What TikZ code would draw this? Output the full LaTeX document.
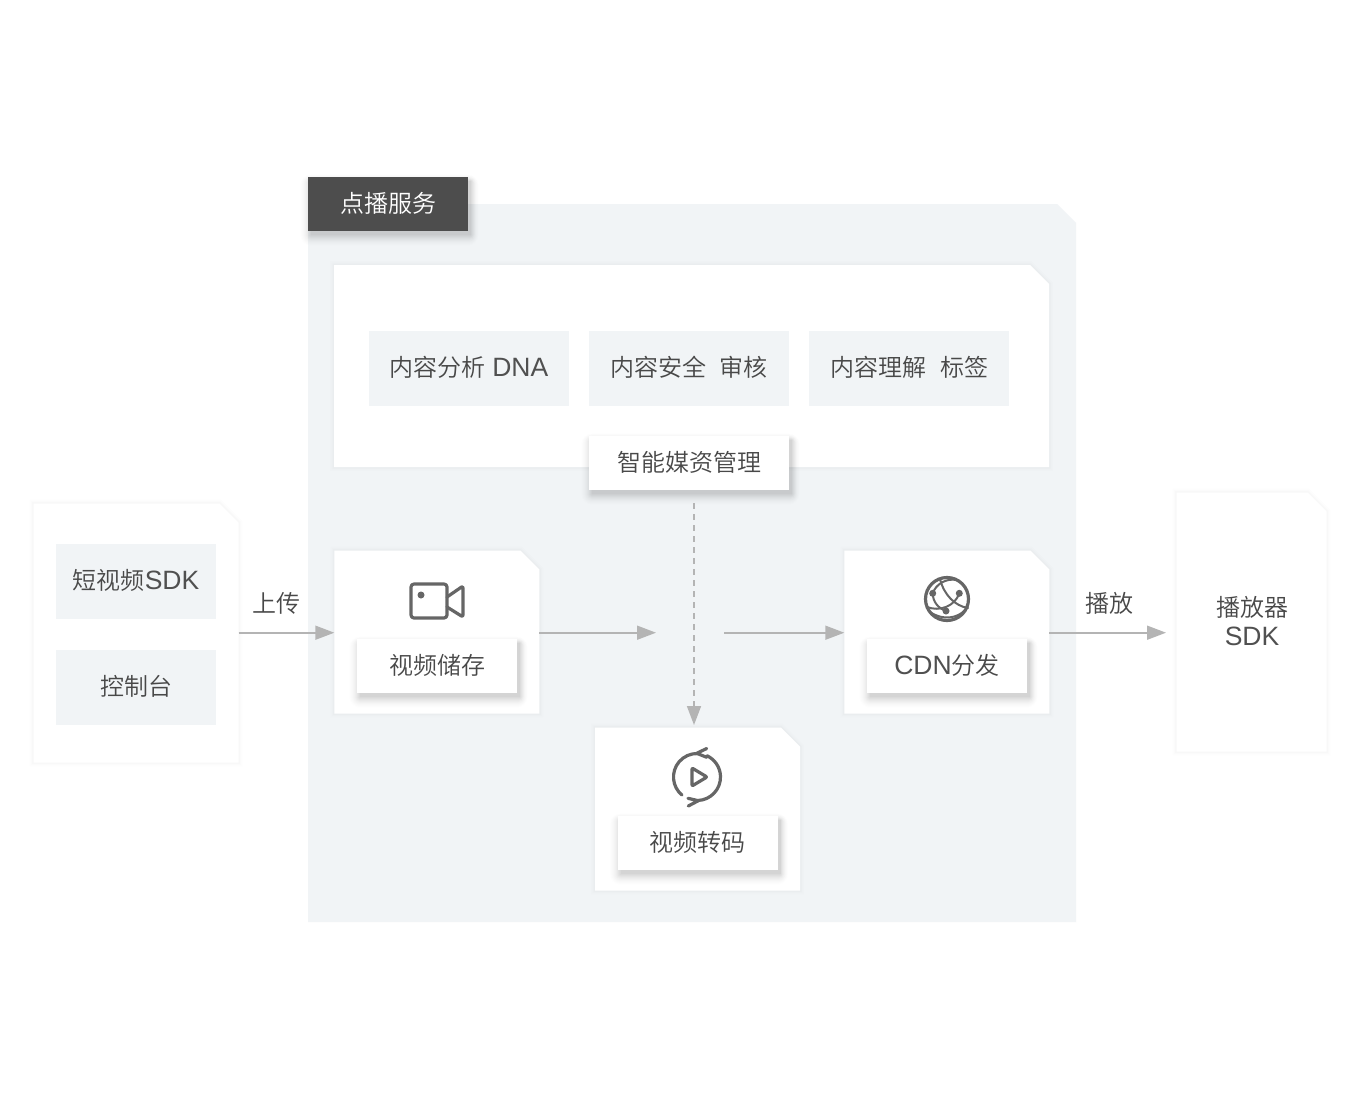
\documentclass[tikz,border=0pt]{standalone}
\usepackage{fontspec}
\setmainfont{Liberation Sans}
\newfontfamily\cjk{Noto Sans CJK SC DemiLight}
\usetikzlibrary{arrows.meta,calc}
\definecolor{bgc}{HTML}{F1F4F6}
\definecolor{txt}{HTML}{484848}
\definecolor{lat}{HTML}{505050}
\definecolor{arr}{HTML}{B4B4B4}
\definecolor{ico}{HTML}{666666}
\definecolor{ttl}{HTML}{4D4D4D}
\newcommand{\zh}[1]{{\cjk #1}}
\newcommand{\la}[1]{{\fontsize{26.5}{31}\selectfont\color{lat}#1}}
\tikzset{
  x=1pt,y=-1pt,
  every node/.style={font=\fontsize{24}{31}\selectfont,text=txt,align=center,inner sep=0pt,outer sep=0pt},
  softglow/.style={
    preaction={draw=black,draw opacity=.006,line width=8pt},
    preaction={draw=black,draw opacity=.008,line width=5pt},
    preaction={draw=black,draw opacity=.012,line width=3pt}},
  tile/.style={rectangle,fill=bgc},
  raised/.style={rectangle,fill=white},
  flow/.style={draw=arr,line width=1.6pt,-{Triangle[length=19pt,width=14pt,fill=arr]}},
  icon/.style={draw=ico,line width=3.2pt,line cap=round,line join=round},
  thin icon/.style={draw=ico,line width=2pt,line cap=round,line join=round},
}
% cut-corner outline drawn round a named holder node
\newcommand{\cutpanel}[3][19]{%
  \path[#3] (#2.north west) -- ($(#2.north east)+(-#1,0)$) -- ($(#2.north east)+(0,#1)$)
     -- (#2.south east) -- (#2.south west) -- cycle;}
% soft drop shadow under a box: centre x, y, width, height
\newcommand{\softshadow}[4]{%
  \foreach \r/\o in {11/.005,10/.006,9/.007,8/.008,7/.010,6/.012,5/.014,4/.016,3/.018,2/.02,1/.022,0/.025}{%
    \fill[black,opacity=\o,rounded corners=\r pt]
      (#1-#3/2+3-\r,#2-#4/2+4-\r*0.6) rectangle (#1+#3/2+3+\r*0.7,#2+#4/2+4+\r);}}
\begin{document}
\begin{tikzpicture}
\useasboundingbox (0,0) rectangle (1360,1100);
\fill[white] (0,0) rectangle (1360,1100);
% back panel of the service
\node[rectangle,minimum width=768pt,minimum height=718pt] (service) at (692,563) {};
\cutpanel{service}{fill=bgc}
\softshadow{388}{204}{160}{54}
\node[rectangle,fill=ttl,minimum width=160pt,minimum height=54pt,text=white] (title) at (388,204) {};
\node[text=white] (titletext) at (388,203) {\zh{点播服务}};
% top panel
\node[rectangle,minimum width=715pt,minimum height=202pt] (top) at (691.5,366) {};
\cutpanel{top}{fill=white,softglow}
\node[tile,minimum width=200pt,minimum height=75pt] (dna) at (469,368.5) {};
\node (dnatext) at (469,367.5) {\zh{内容分析} \la{DNA}};
\node[tile,minimum width=200pt,minimum height=75pt] (audit) at (689,368.5) {};
\node (audittext) at (689,367.5) {\zh{内容安全\hspace{14pt}审核}};
\node[tile,minimum width=200pt,minimum height=75pt] (label) at (909,368.5) {};
\node (labeltext) at (909,367.5) {\zh{内容理解\hspace{14pt}标签}};
\softshadow{689}{463}{200}{54}
\node[raised,minimum width=200pt,minimum height=54pt] (media) at (689,463) {};
\node (mediatext) at (689,462) {\zh{智能媒资管理}};
% left client
\node[rectangle,minimum width=205pt,minimum height=259pt] (client) at (136,633) {};
\cutpanel{client}{fill=white,softglow}
\node[tile,minimum width=160pt,minimum height=75pt] (sdk) at (136,581.5) {};
\node (sdktext) at (136,580.5) {\zh{短视频}\la{SDK}};
\node[tile,minimum width=160pt,minimum height=75pt] (console) at (136,687.5) {};
\node (consoletext) at (136,686.5) {\zh{控制台}};
% storage
\node[rectangle,minimum width=205pt,minimum height=163pt] (store) at (436.8,632) {};
\cutpanel{store}{fill=white,softglow}
\softshadow{437}{666}{160}{54}
\node[raised,minimum width=160pt,minimum height=54pt] (storelabel) at (437,666) {};
\node (storetext) at (437,665) {\zh{视频储存}};
% cdn
\node[rectangle,minimum width=205pt,minimum height=163pt] (cdn) at (946.8,632) {};
\cutpanel{cdn}{fill=white,softglow}
\softshadow{947}{666}{160}{54}
\node[raised,minimum width=160pt,minimum height=54pt] (cdnlabel) at (947,666) {};
\node (cdntext) at (947,665) {\la{CDN}\zh{分发}};
% transcode
\node[rectangle,minimum width=205pt,minimum height=163pt] (trans) at (697.5,809.2) {};
\cutpanel{trans}{fill=white,softglow}
\softshadow{697.5}{843}{160}{54}
\node[raised,minimum width=160pt,minimum height=54pt] (translabel) at (697.5,843) {};
\node (transtext) at (697.5,842) {\zh{视频转码}};
% player
\node[rectangle,minimum width=150pt,minimum height=259pt] (player) at (1251.5,622) {};
\cutpanel{player}{fill=white,softglow}
\node (playerlabel) at (1252,621.5) {\zh{播放器}\\[-2pt]\la{SDK}};
% connector ends
\coordinate (gapin) at (656,632.7);
\coordinate (gapout) at (724,632.7);
\coordinate (playin) at (1166,632.7);
\coordinate (dashstart) at (694,503);
\coordinate (dashend) at (694,725);
\draw[flow] (client.east |- gapin) -- (store.west |- gapin);
\draw[flow] (store.east |- gapin) -- (gapin);
\draw[flow] (gapout) -- (cdn.west |- gapout);
\draw[flow] (cdn.east |- playin) -- (playin);
\draw[flow,dash pattern=on 6pt off 5pt,-{Triangle[length=19pt,width=14pt,fill=arr,sep=0pt]}] (dashstart) -- (dashend);
\node (up) at (276,603) {\zh{上传}};
\node (play) at (1109,603) {\zh{播放}};
% camera icon
\draw[icon,rounded corners=3pt] (411,584) rectangle (447,618);
\draw[icon,rounded corners=2pt] (447,597) -- (463,586) -- (463,617) -- (447,607);
\fill[ico] (421,595) circle (3.5);
% transcode icon
\draw[icon] (697,777) ++(88:23.5) arc[start angle=88,end angle=-65,radius=23.5];
\draw[icon] (697,777) ++(130:23.5) arc[start angle=130,end angle=272,radius=23.5];
\draw[icon] (706.7,748.5) -- (696.7,753.3) -- (706.7,757.3);
\draw[icon] (688,798.3) -- (698.3,800.7) -- (688.3,806);
\draw[icon,rounded corners=1pt] (692,768) -- (707,777) -- (692,786) -- cycle;
% globe icon
\draw[icon] (947,599) circle (21.5);
\draw[thin icon] (932.7,593.3) .. controls (936,584) and (946,578) .. (957,580);
\draw[thin icon] (940,579) .. controls (944,595) and (955,606) .. (968,608);
\draw[thin icon] (927,607) .. controls (940,612) and (955,606) .. (959.3,593.3);
\draw[thin icon] (930,612) .. controls (943,621) and (958,618) .. (965,610);
\draw[thin icon] (932.7,593.3) .. controls (933,602) and (938,608) .. (946,611);
\fill[ico] (932.7,593.3) circle (3.5) (959.3,593.3) circle (3.5) (946,611) circle (3.5);
\end{tikzpicture}
\end{document}
